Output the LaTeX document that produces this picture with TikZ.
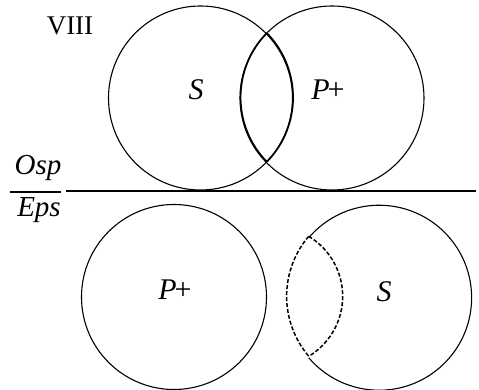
\documentclass[tikz,border=0pt]{standalone}
\usepackage{fontspec}
\setmainfont{Liberation Serif}
\usetikzlibrary{positioning,calc}
\newcommand{\lblsize}{\fontsize{30}{34}\selectfont}
\newcommand{\fracsize}{\fontsize{29}{33}\selectfont}
\newcommand{\numsize}{\fontsize{27}{31}\selectfont}
\begin{document}
\begin{tikzpicture}[
  x=1pt, y=1pt,
  venn/.style={circle, minimum size=184pt, inner sep=0pt, outer sep=0pt},
  rim/.style={line width=1.1pt, black},
  lens/.style={line width=1.7pt, black},
  ghost/.style={line width=1.5pt, black, dash pattern=on 4pt off 2pt},
  lbl/.style={anchor=base, inner sep=0pt, font=\lblsize},
  rule/.style={line width=1.3pt, black},
]
  \useasboundingbox (0,0) rectangle (479,390);
  % upper figure
  \node[venn, draw, rim] (s1) at (200.5,292) {};
  \node[venn, draw, rim] (p1) at (332,292) {};
  \draw[lens] (s1.-44.5) arc[start angle=-44.5, end angle=44.5, radius=92pt];
  \draw[lens] (p1.135.5) arc[start angle=135.5, end angle=224.5, radius=92pt];
  \node[lbl, font=\numsize] (t1) at (70,355) {VIII};
  \node[lbl] (ls1) at (196,290) {\textit{S}};
  \node[lbl] (lp1) at (328,290) {\textit{P}\kern-2pt+};
  % the dividing rule
  \node[lbl, font=\fracsize] (osp) at (38,215) {\textit{Osp}};
  \node[lbl, font=\fracsize] (eps) at (39,173) {\textit{Eps}};
  \coordinate (bar-l) at (10,198);
  \coordinate (bar-r) at (61,198);
  \coordinate (rule-l) at (66,199);
  \coordinate (rule-r) at (476,199);
  \draw[rule] (bar-l) -- (bar-r);
  \draw[rule] (rule-l) -- (rule-r);
  % lower figure
  \node[venn, draw, rim, minimum size=185pt] (p2) at (174,93) {};
  \node[venn, minimum size=185pt] (s2) at (378.5,93) {};
  \draw[rim] (s2.-139.6) arc[start angle=-139.6, end angle=139.6, radius=92.5pt];
  \draw[ghost] (s2.139.6) arc[start angle=139.6, end angle=220.4, radius=92.5pt];
  \draw[ghost] (s2.139.6) arc[start angle=59, end angle=-59, radius=70pt];
  \node[lbl] (lp2) at (175,90) {\textit{P}\kern-2pt+};
  \node[lbl] (ls2) at (384,88) {\textit{S}};
\end{tikzpicture}
\end{document}
